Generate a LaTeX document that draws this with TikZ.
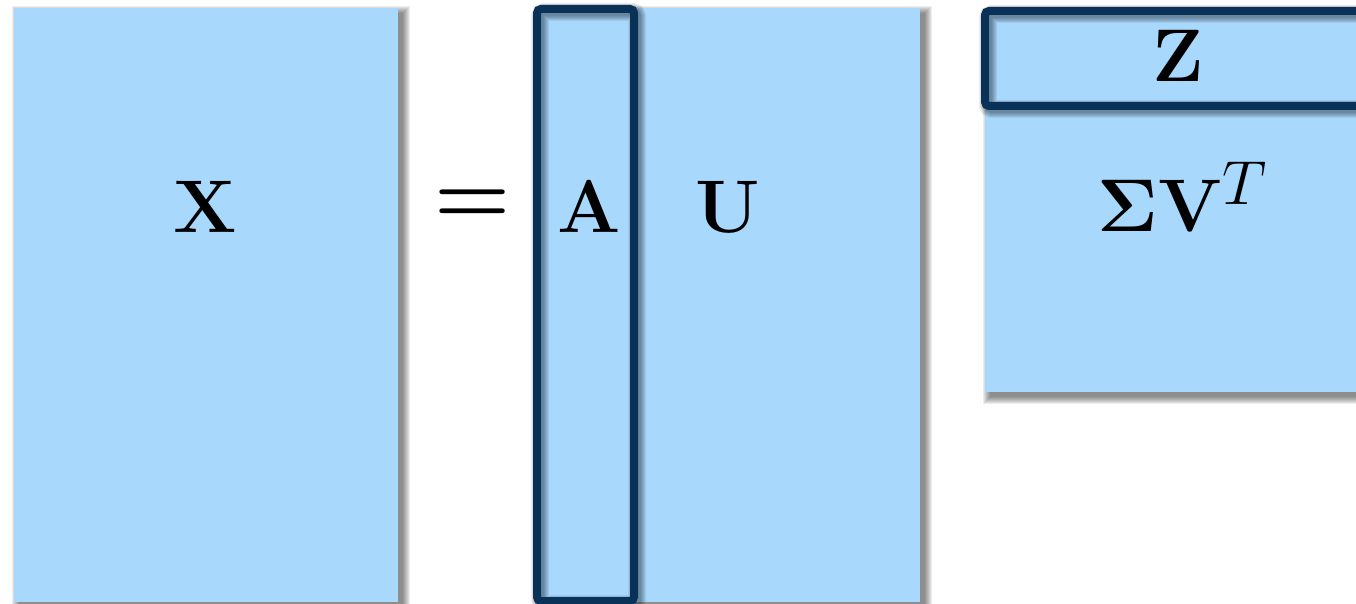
\documentclass[tikz,border=0pt]{standalone}
\usepackage{amsmath}
\definecolor{matblue}{HTML}{A9D8FD}
\definecolor{navy}{HTML}{0A3158}
\tikzset{
  matfill/.style={fill=matblue, draw=none},
  outlinebox/.style={draw=navy, line width=4pt, rounded corners=2pt},
  lbl/.style={inner sep=0pt, font=\fontsize{24.88}{30}\selectfont},
}
\newcommand\bigmath[2]{\scalebox{#1}{$#2$}}
\newcommand\softshadow[4]{%
  \foreach \k in {0,...,7}{%
    \fill[black, opacity=0.07] (#1+5-\k, #2+5-\k) rectangle (#3+5+\k, #4+5+\k);
  }}
\newcommand\strokeshadow[4]{%
  \foreach \k in {0,...,5}{%
    \draw[black, opacity=0.07, line width=4pt+\k pt, rounded corners=2pt] (#1+3, #2+3) rectangle (#3+3, #4+3);
  }}
\begin{document}
\begin{tikzpicture}[x=0.5pt, y=-0.5pt]
\useasboundingbox (0,0) rectangle (1356,604);
\clip (0,0) rectangle (1356,604);
% shadows of matrices
\softshadow{14}{8}{398}{602}
\softshadow{537}{8}{920}{602}
\softshadow{985}{11}{1370}{392}
% matrices
\fill[matfill] (14,8) rectangle (398,602);
\fill[matfill] (537,8) rectangle (920,602);
\fill[matfill] (985,11) rectangle (1370,392);
% outline shadows
\strokeshadow{537}{9}{634}{601}
\strokeshadow{985}{11}{1370}{106}
% outlines
\draw[outlinebox] (537,9) rectangle (634,601);
\draw[outlinebox] (985,11) rectangle (1370,106);
% labels
\node[lbl, anchor=base] (x) at (205,233) {\bigmath{1.5}{\mathbf{X}}};
\node[lbl] (eq) at (473,207) {\bigmath{1.75}{\boldsymbol{=}}};
\node[lbl, anchor=base] (a) at (589,233) {\bigmath{1.5}{\mathbf{A}}};
\node[lbl, anchor=base] (u) at (728,233) {\bigmath{1.5}{\mathbf{U}}};
\node[lbl, anchor=base] (z) at (1178,82) {\bigmath{1.5}{\mathbf{Z}}};
\node[lbl, anchor=base west] (sv) at (1097,232) {\bigmath{1.5}{\mathbf{\Sigma V}^{T}}};
\end{tikzpicture}
\end{document}
